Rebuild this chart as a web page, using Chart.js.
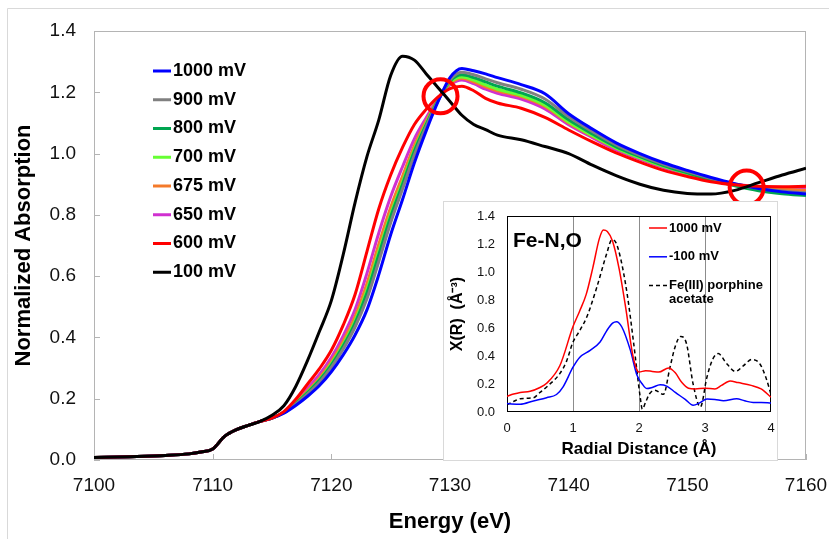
<!DOCTYPE html>
<html>
<head>
<meta charset="utf-8">
<script src="https://cdn.jsdelivr.net/npm/chart.js@4.4.1/dist/chart.umd.min.js"></script>
<style>
  html, body { margin: 0; padding: 0; background: #fff; }
  #wrap { position: relative; width: 829px; height: 539px; overflow: hidden; }
  #main { position: absolute; left: 0; top: 0; }
  #insetBox { position: absolute; left: 443px; top: 201px; width: 335px; height: 260px;
              border: 1px solid #d9d9d9; box-sizing: border-box; background: #fff; }
  #inset { position: absolute; left: 0; top: 0; }
</style>
</head>
<body>
<div id="wrap">
  <canvas id="main" width="829" height="539"></canvas>
  <div id="insetBox"><canvas id="inset" width="333" height="258"></canvas></div>
</div>
<script>
const FONT = "'Liberation Sans', Arial, Helvetica, sans-serif";

// XANES energies (eV)
const energy = [7100, 7103, 7106, 7108, 7109, 7110, 7111, 7112, 7113, 7114,
  7115, 7116, 7117, 7118, 7119, 7120, 7121, 7122, 7123, 7124, 7125, 7126, 7127, 7128, 7129,
  7130, 7131, 7132, 7133, 7134, 7136, 7138, 7140, 7142, 7144, 7146, 7148, 7150, 7152, 7154,
  7156, 7158, 7160];

// all potentials overlap below 7115 eV
const preEdge = [0.008, 0.011, 0.015, 0.02, 0.026, 0.036, 0.077, 0.099, 0.113, 0.126];

const mv1000 = [...preEdge, 0.137, 0.153, 0.178, 0.208, 0.243, 0.288, 0.343, 0.408, 0.49, 0.605,
  0.735, 0.85, 0.97, 1.075, 1.17, 1.248, 1.278, 1.27, 1.26, 1.248, 1.225, 1.195, 1.13, 1.08,
  1.035, 1.0, 0.97, 0.945, 0.922, 0.902, 0.886, 0.875, 0.868];
const mv900 = [...preEdge, 0.137, 0.154, 0.182, 0.216, 0.254, 0.302, 0.362, 0.434, 0.526, 0.648,
  0.774, 0.884, 0.995, 1.089, 1.173, 1.24, 1.265, 1.257, 1.244, 1.231, 1.21, 1.178, 1.12, 1.072,
  1.028, 0.994, 0.965, 0.941, 0.919, 0.9, 0.887, 0.878, 0.872];
const mv800 = [...preEdge, 0.137, 0.155, 0.184, 0.22, 0.26, 0.31, 0.372, 0.447, 0.545, 0.67,
  0.794, 0.9, 1.008, 1.095, 1.175, 1.236, 1.257, 1.248, 1.234, 1.22, 1.198, 1.166, 1.11, 1.064,
  1.022, 0.99, 0.961, 0.937, 0.914, 0.895, 0.879, 0.869, 0.863];
const mv700 = [...preEdge, 0.137, 0.155, 0.185, 0.222, 0.262, 0.314, 0.377, 0.454, 0.555, 0.681,
  0.803, 0.908, 1.013, 1.099, 1.176, 1.232, 1.25, 1.24, 1.224, 1.21, 1.19, 1.158, 1.103, 1.058,
  1.018, 0.986, 0.958, 0.935, 0.914, 0.897, 0.882, 0.872, 0.866];
const mv675 = [...preEdge, 0.137, 0.156, 0.187, 0.226, 0.268, 0.321, 0.388, 0.468, 0.575, 0.704,
  0.824, 0.926, 1.026, 1.107, 1.178, 1.228, 1.246, 1.234, 1.218, 1.205, 1.186, 1.154, 1.1, 1.057,
  1.018, 0.986, 0.958, 0.936, 0.916, 0.9, 0.89, 0.884, 0.88];
const mv650 = [...preEdge, 0.137, 0.156, 0.191, 0.234, 0.279, 0.334, 0.405, 0.491, 0.609, 0.741,
  0.859, 0.957, 1.048, 1.117, 1.18, 1.224, 1.24, 1.228, 1.21, 1.197, 1.178, 1.146, 1.094, 1.052,
  1.012, 0.982, 0.954, 0.932, 0.913, 0.9, 0.892, 0.888, 0.886];
const mv600 = [...preEdge, 0.137, 0.158, 0.198, 0.248, 0.298, 0.358, 0.44, 0.54, 0.68, 0.82,
  0.93, 1.02, 1.095, 1.145, 1.185, 1.212, 1.22, 1.205, 1.18, 1.165, 1.148, 1.118, 1.077, 1.038,
  1.002, 0.972, 0.945, 0.925, 0.908, 0.898, 0.893, 0.892, 0.893];
const mv100 = [...preEdge, 0.146, 0.177, 0.24, 0.325, 0.42, 0.52, 0.67, 0.84, 0.99, 1.11,
  1.255, 1.318, 1.305, 1.26, 1.215, 1.17, 1.125, 1.095, 1.078, 1.06, 1.045, 1.023, 1.0, 0.962,
  0.928, 0.9, 0.88, 0.87, 0.868, 0.88, 0.905, 0.93, 0.952];

// isosbestic points marked with red circles
const isoE = [7129.2, 7155.0];
const isoY = [1.187, 0.889];

const xTicks = [7100, 7110, 7120, 7130, 7140, 7150, 7160];
const yTicks = [0, 0.2, 0.4, 0.6, 0.8, 1.0, 1.2, 1.4];

// FT-EXAFS inset
const rRed = [0, 0.1, 0.2, 0.35, 0.5, 0.6, 0.8, 1.0, 1.1, 1.2, 1.3, 1.4, 1.46, 1.52, 1.6, 1.7, 1.8,
  1.9, 1.96, 2.0, 2.1, 2.2, 2.3, 2.45, 2.55, 2.65, 2.75, 2.85, 3.0, 3.15, 3.25, 3.38, 3.5, 3.7,
  3.85, 4.0];
const chiRed = [0.112, 0.128, 0.14, 0.148, 0.175, 0.205, 0.33, 0.61, 0.72, 0.84, 1.03, 1.24, 1.30,
  1.29, 1.22, 1.02, 0.74, 0.42, 0.31, 0.285, 0.295, 0.29, 0.285, 0.315, 0.28, 0.21, 0.17, 0.165,
  0.17, 0.165, 0.19, 0.222, 0.21, 0.19, 0.165, 0.105];
const rBlue = [0, 0.2, 0.4, 0.6, 0.75, 0.85, 1.0, 1.1, 1.26, 1.41, 1.51, 1.6, 1.66, 1.74, 1.87,
  1.97, 2.05, 2.12, 2.2, 2.32, 2.42, 2.55, 2.7, 2.82, 2.92, 3.03, 3.15, 3.28, 3.48, 3.6, 3.73,
  3.85, 4.0];
const chiBlue = [0.06, 0.055, 0.079, 0.102, 0.125, 0.18, 0.32, 0.39, 0.44, 0.5, 0.58, 0.635, 0.645,
  0.607, 0.44, 0.262, 0.2, 0.167, 0.175, 0.195, 0.185, 0.14, 0.09, 0.048, 0.065, 0.092, 0.09,
  0.08, 0.095, 0.08, 0.068, 0.068, 0.064];
const rRef = [0, 0.1, 0.2, 0.4, 0.5, 0.6, 0.8, 0.9, 1.0, 1.1, 1.21, 1.36, 1.51, 1.59, 1.65, 1.72,
  1.82, 1.92, 2.02, 2.05, 2.1, 2.16, 2.24, 2.37, 2.47, 2.55, 2.63, 2.72, 2.82, 2.93, 3.03, 3.12,
  3.2, 3.33, 3.46, 3.58, 3.71, 3.83, 3.92, 4.0];
const chiRef = [0.052, 0.075, 0.095, 0.102, 0.14, 0.179, 0.274, 0.36, 0.5, 0.58, 0.68, 0.89, 1.13,
  1.23, 1.21, 1.10, 0.845, 0.488, 0.1, 0.02, 0.07, 0.13, 0.155, 0.126, 0.32, 0.47, 0.54, 0.488,
  0.2, 0.036, 0.25, 0.38, 0.417, 0.345, 0.29, 0.33, 0.375, 0.345, 0.25, 0.126];

const pts = (xs, ys) => xs.map((x, i) => ({ x: x, y: ys[i] }));

const framePlugin = {
  id: 'frame',
  beforeDraw(chart, args, o) {
    const { ctx, width, height } = chart;
    ctx.save();
    ctx.fillStyle = '#fff';
    ctx.fillRect(0, 0, width, height);
    if (o.outer) {
      ctx.strokeStyle = o.outer;
      ctx.lineWidth = 1;
      ctx.beginPath();
      ctx.moveTo(7.5, height);
      ctx.lineTo(7.5, 8.5);
      ctx.lineTo(width, 8.5);
      ctx.stroke();
    }
    ctx.restore();
  },
  beforeDatasetsDraw(chart, args, o) {
    const { ctx, chartArea: a, scales } = chart;
    ctx.save();
    ctx.strokeStyle = o.color;
    ctx.lineWidth = 1;
    ctx.strokeRect(Math.round(a.left) + 0.5, Math.round(a.top) + 0.5,
      Math.round(a.width) - 1, Math.round(a.height) - 1);
    if (o.tickLen) {
      ctx.beginPath();
      scales.x.ticks.forEach(t => {
        const px = Math.round(scales.x.getPixelForValue(t.value)) + 0.5;
        ctx.moveTo(px, a.bottom);
        ctx.lineTo(px, a.bottom - o.tickLen);
      });
      scales.y.ticks.forEach(t => {
        const py = Math.round(scales.y.getPixelForValue(t.value)) + 0.5;
        ctx.moveTo(a.left, py);
        ctx.lineTo(a.left + o.tickLen, py);
      });
      ctx.stroke();
    }
    ctx.restore();
  }
};

const lineLegend = {
  id: 'lineLegend',
  afterDraw(chart, args, o) {
    const ctx = chart.ctx;
    ctx.save();
    ctx.font = o.font;
    ctx.textBaseline = 'middle';
    let y = o.y;
    chart.data.datasets.forEach(ds => {
      if (!ds.label) return;
      ctx.strokeStyle = ds.borderColor;
      ctx.lineWidth = o.lineWidth;
      ctx.setLineDash(ds.borderDash || []);
      ctx.beginPath();
      ctx.moveTo(o.x, y);
      ctx.lineTo(o.x + o.lineLen, y);
      ctx.stroke();
      ctx.fillStyle = '#000';
      const lines = [].concat(ds.label);
      lines.forEach((t, k) => ctx.fillText(t, o.x + o.lineLen + o.gap, y + k * o.lineStep));
      y += o.step + (lines.length - 1) * o.lineStep;
    });
    ctx.restore();
  }
};

const textNote = {
  id: 'textNote',
  afterDraw(chart, args, o) {
    if (!o.text) return;
    const ctx = chart.ctx;
    ctx.save();
    ctx.font = o.font;
    ctx.fillStyle = '#000';
    ctx.textBaseline = 'middle';
    ctx.fillText(o.text, o.x, o.y);
    ctx.restore();
  }
};

function line(label, data, color, order, width) {
  return {
    label: label, data: data, borderColor: color, backgroundColor: color,
    borderWidth: width, pointRadius: 0, fill: false, order: order,
    cubicInterpolationMode: 'monotone'
  };
}

// keep chart area fixed: no extra side padding for edge labels
function noSidePad(s) { s.paddingLeft = 0; s.paddingRight = 0; }

new Chart(document.getElementById('main'), {
  type: 'line',
  data: {
    datasets: [
      line('1000 mV', pts(energy, mv1000), '#0000ff', 3, 3),
      line('900 mV', pts(energy, mv900), '#808080', 3, 3),
      line('800 mV', pts(energy, mv800), '#00a550', 3, 3),
      line('700 mV', pts(energy, mv700), '#66ff33', 3, 3),
      line('675 mV', pts(energy, mv675), '#f47a2a', 3, 3),
      line('650 mV', pts(energy, mv650), '#d030d0', 3, 3),
      line('600 mV', pts(energy, mv600), '#ff0000', 2, 3),
      line('100 mV', pts(energy, mv100), '#000000', 1, 3),
      {
        data: pts(isoE, isoY), showLine: false, order: 0,
        pointRadius: 17, pointHoverRadius: 17, pointBorderWidth: 4,
        pointBorderColor: '#ff0000', pointBackgroundColor: 'rgba(0,0,0,0)'
      }
    ]
  },
  options: {
    responsive: false,
    animation: false,
    events: [],
    layout: { padding: { top: 31, right: 23, left: 0, bottom: 0 } },
    plugins: {
      legend: { display: false },
      tooltip: { enabled: false },
      frame: { color: '#b4b4b4', tickLen: 6, outer: '#d9d9d9' },
      lineLegend: { x: 153, y: 71, step: 28.75, lineLen: 18, gap: 2, lineWidth: 3,
                    lineStep: 0, font: 'bold 18px ' + FONT }
    },
    scales: {
      x: {
        type: 'linear', min: 7100, max: 7160,
        afterBuildTicks(s) { s.ticks = xTicks.map(v => ({ value: v })); },
        afterFit(s) { s.height = 79; noSidePad(s); },
        ticks: { padding: 14, color: '#111', font: { family: FONT, size: 19 },
                 callback: v => String(v) },
        grid: { display: false, drawTicks: false },
        border: { display: false },
        title: { display: true, text: 'Energy (eV)', color: '#000',
                 font: { family: FONT, size: 22, weight: 'bold' }, padding: { top: 0, bottom: 4 } }
      },
      y: {
        type: 'linear', min: 0, max: 1.4,
        afterBuildTicks(s) { s.ticks = yTicks.map(v => ({ value: v })); },
        afterFit(s) { s.width = 94; s.paddingTop = 0; s.paddingBottom = 0; },
        ticks: { padding: 18, color: '#111', font: { family: FONT, size: 19 },
                 callback: v => Number(v).toFixed(1) },
        grid: { display: false, drawTicks: false },
        border: { display: false },
        title: { display: true, text: 'Normalized Absorption', color: '#000',
                 font: { family: FONT, size: 22, weight: 'bold' }, padding: { top: 11, bottom: 0 } }
      }
    }
  },
  plugins: [framePlugin, lineLegend]
});

const insetLine = (label, data, color, dash) => Object.assign(line(label, data, color, 1, 1.5),
  { borderDash: dash || [] });

new Chart(document.getElementById('inset'), {
  type: 'line',
  data: {
    datasets: [
      insetLine('1000 mV', pts(rRed, chiRed), '#ff0000'),
      insetLine('-100 mV', pts(rBlue, chiBlue), '#0000ff'),
      insetLine(['Fe(III) porphine', 'acetate'], pts(rRef, chiRef), '#000000', [4, 3])
    ]
  },
  options: {
    responsive: false,
    animation: false,
    events: [],
    layout: { padding: { top: 14, right: 6, left: 0, bottom: 0 } },
    plugins: {
      legend: { display: false },
      tooltip: { enabled: false },
      frame: { color: '#000', tickLen: 0 },
      lineLegend: { x: 205, y: 26, step: 28.8, lineLen: 18, gap: 2, lineWidth: 1.5,
                    lineStep: 14.3, font: 'bold 13px ' + FONT },
      textNote: { text: 'Fe-N,O', x: 69, y: 39, font: 'bold 21px ' + FONT }
    },
    scales: {
      x: {
        type: 'linear', min: 0, max: 4,
        ticks: { stepSize: 1, padding: 9, color: '#111', font: { family: FONT, size: 13 } },
        afterFit(s) { s.height = 48; noSidePad(s); },
        grid: {
          drawTicks: false, lineWidth: 1,
          color: c => (c.tick && c.tick.value > 0 && c.tick.value < 4) ? '#8c8c8c' : 'rgba(0,0,0,0)'
        },
        border: { display: false },
        title: { display: true, text: 'Radial Distance (Å)', color: '#000',
                 font: { family: FONT, size: 17, weight: 'bold' }, padding: { top: 0, bottom: 0 } }
      },
      y: {
        type: 'linear', min: 0, max: 1.4,
        ticks: { stepSize: 0.2, padding: 12, color: '#111', font: { family: FONT, size: 13 },
                 callback: v => Number(v).toFixed(1) },
        afterFit(s) { s.width = 63; s.paddingTop = 0; s.paddingBottom = 0; },
        grid: { display: false, drawTicks: false },
        border: { display: false },
        title: { display: true, text: 'X(R)  (Å⁻³)', color: '#000',
                 font: { family: FONT, size: 16, weight: 'bold' }, padding: { top: 4, bottom: 0 } }
      }
    }
  },
  plugins: [framePlugin, lineLegend, textNote]
});
</script>
</body>
</html>
